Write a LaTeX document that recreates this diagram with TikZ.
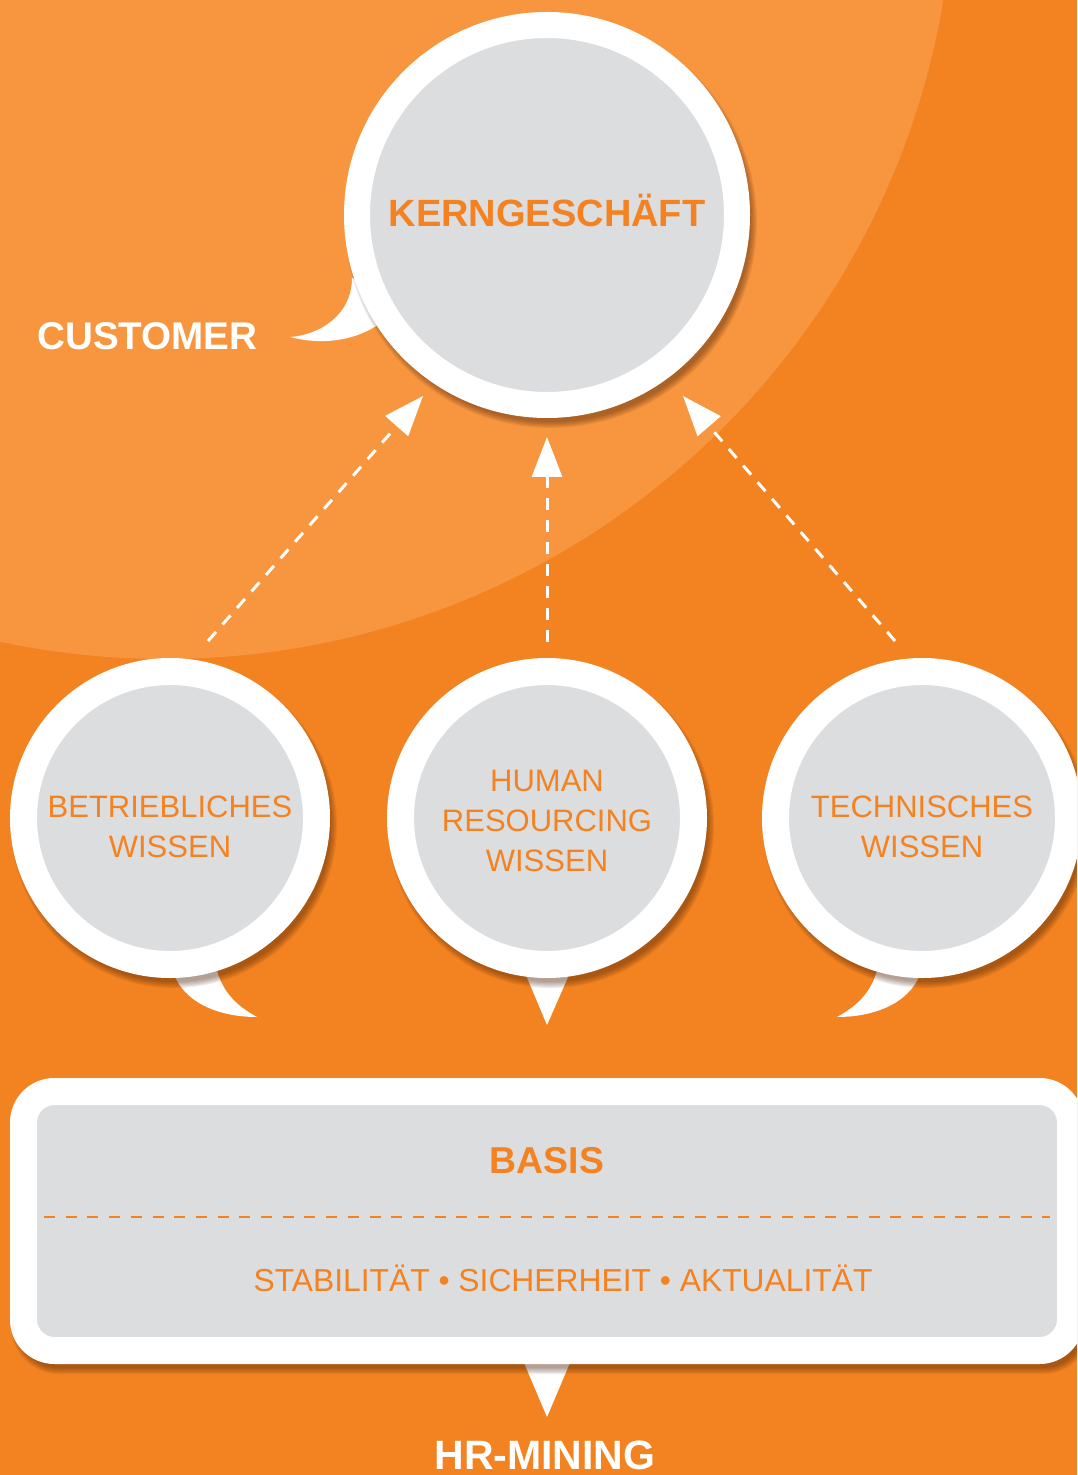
\documentclass[tikz,border=0pt]{standalone}
\usepackage{fontspec}
\setmainfont{Liberation Sans}
\usetikzlibrary{arrows.meta}
\definecolor{bgdark}{HTML}{F38221}
\definecolor{bglight}{HTML}{F7963F}
\definecolor{cgrey}{HTML}{DCDDDF}
\definecolor{corange}{HTML}{F58220}
\definecolor{cshadow}{HTML}{4A2206}
\newcommand{\softcircle}[3]{%
  \foreach \k in {0,...,5}{%
    \fill[cshadow, opacity=0.085] (#1+4,#2+7) circle[radius={(#3+3-1.2*\k)*0.5pt}];
  }}
\begin{document}
\begin{tikzpicture}[x=0.5pt,y=-0.5pt,
  bigbubble/.style={circle, fill=cgrey, draw=white, line width=13pt, minimum size=190pt, inner sep=0pt},
  smallbubble/.style={circle, fill=cgrey, draw=white, line width=13.5pt, minimum size=146.5pt, inner sep=0pt},
  bubbletext/.style={text=corange, font=\fontsize{15.5}{20}\selectfont, align=center, inner sep=0pt},
  boldtext/.style={font=\bfseries\fontsize{#1}{22}\selectfont, inner sep=0pt, anchor=base},
  tailshape/.style={fill=white},
  dasharrow/.style={draw=white, line width=1.5pt, dash pattern=on 6pt off 5pt, -{Triangle[length=20pt,width=15pt]}},
  basisline/.style={draw=corange, line width=1.35pt, dash pattern=on 5.5pt off 5.35pt},
]
\useasboundingbox (0,0) rectangle (1077,1475);
\clip (0,0) rectangle (1077,1475);
% background
\fill[bgdark] (0,0) rectangle (1077,1475);
\fill[bglight] (165,-130) circle[radius=394.5pt];
% tails
\fill[tailshape] (352,278) .. controls (352,315) and (320,335) .. (290,337)
   .. controls (320,345) and (355,342) .. (382,322) -- (400,300) -- cycle;
\fill[tailshape] (172,968) .. controls (180,1000) and (215,1017) .. (257,1017)
   .. controls (235,1005) and (220,990) .. (215,962) -- cycle;
\fill[tailshape] (922,968) .. controls (914,1000) and (879,1017) .. (837,1017)
   .. controls (859,1005) and (874,990) .. (879,962) -- cycle;
\fill[tailshape] (523,968) -- (547,1025) -- (572,968) -- cycle;
\fill[tailshape] (522,1358) -- (547,1417) -- (572,1358) -- cycle;
% shadows
\softcircle{547}{215}{203}
\softcircle{170}{818}{160}
\softcircle{547}{818}{160}
\softcircle{922}{818}{160}
\foreach \k in {0,...,5}{%
  \fill[cshadow, opacity=0.085, rounded corners={(22.5+1.5-0.6*\k)*1pt}]
    (14-3+1.2*\k,1085-3+1.2*\k) rectangle (1088+3-1.2*\k,1371+3-1.2*\k);
}
% bubbles
\node[bigbubble] (kern) at (547,215) {};
\node[smallbubble] (bw) at (170,818) {};
\node[smallbubble] (hr) at (547,818) {};
\node[smallbubble] (tw) at (922,818) {};
\node[draw=white, line width=13.5pt, fill=cgrey, rounded corners=15.5pt,
      minimum width=523.5pt, minimum height=129.5pt, inner sep=0pt] (basis) at (547,1221) {};
% texts
\node[boldtext=19, text=corange] (kerntext) at (547,227) {KERNGESCHÄFT};
\node[boldtext=19.3, text=white, anchor=base west] (cust) at (37,350) {CUSTOMER};
\node[bubbletext] (bwt) at (170,827) {BETRIEBLICHES\\WISSEN};
\node[bubbletext] (hrt) at (547,821) {HUMAN\\RESOURCING\\WISSEN};
\node[bubbletext] (twt) at (922,827) {TECHNISCHES\\WISSEN};
\node[boldtext=18.7, text=corange] (basistext) at (547,1173) {BASIS};
\node[bubbletext, font=\fontsize{15.9}{20}\selectfont, anchor=base] (values) at (563,1291) {STABILITÄT • SICHERHEIT • AKTUALITÄT};
\node[boldtext=20.5, text=white] (hrm) at (545,1469) {HR-MINING};
% dashed separator
\coordinate (dl) at (44,1217);
\coordinate (dr) at (1050,1217);
\draw[basisline] (dl) -- (dr);
% arrows
\coordinate (la) at (208,641);
\coordinate (lt) at (423,396);
\coordinate (ma) at (547,642);
\coordinate (mt) at (547,437);
\coordinate (ra) at (895,641);
\coordinate (rt) at (683,396);
\draw[dasharrow] (la) -- (lt);
\draw[dasharrow] (ma) -- (mt);
\draw[dasharrow] (ra) -- (rt);
\end{tikzpicture}
\end{document}
